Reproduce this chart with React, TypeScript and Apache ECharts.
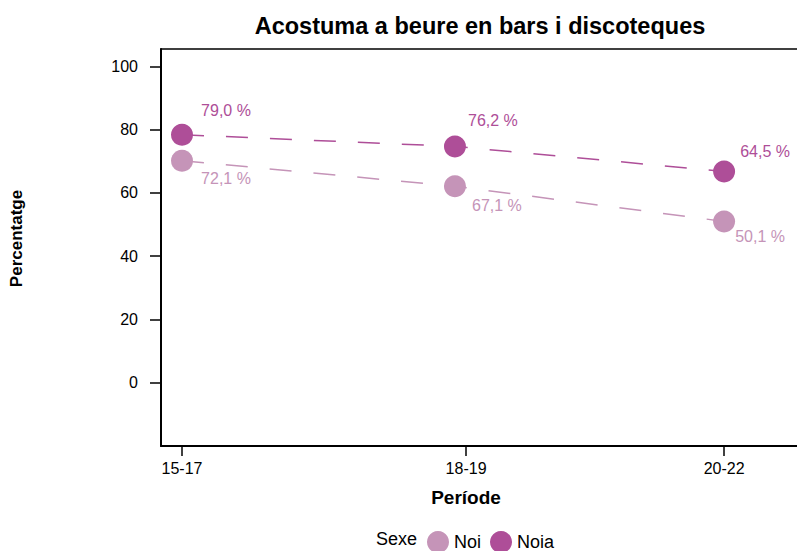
import React, { useEffect, useRef } from "react";
import * as echarts from "echarts";

const categories = ["15-17", "18-19", "20-22"];
const categoryTickPos = [0, 1.048, 2];
const pointPos = [0, 1.007, 2];
const noiaValues = [78.4, 74.7, 66.8];
const noiValues = [70.2, 62.1, 51.0];
const noiaLabels = [79.0, 76.2, 64.5];
const noiLabels = [72.1, 67.1, 50.1];
const yTicks = [0, 20, 40, 60, 80, 100];
const noiaLabelOffsets = [[44, -24], [38, -26], [41, -20]];
const noiLabelOffsets = [[44, 18], [42, 19], [36, 15]];

const NOIA = "#AE4E98";
const NOI = "#C594B8";
const FONT = "'Liberation Sans', Arial, Helvetica, sans-serif";

const fmt = (n: number) => n.toFixed(1).replace(".", ",") + " %";

function buildSeries(name: string, values: number[], labels: number[], offsets: number[][], color: string) {
  return {
    name,
    type: "line",
    symbol: "circle",
    symbolSize: 22,
    itemStyle: { color },
    lineStyle: { color, width: 1.5, type: [22, 22] },
    data: values.map((v, i) => ({
      value: [pointPos[i], v],
      label: {
        show: true,
        position: "inside",
        offset: offsets[i],
        formatter: fmt(labels[i]),
        color,
        fontSize: 16,
        fontFamily: FONT,
      },
    })),
  };
}

export default function App() {
  const ref = useRef<HTMLDivElement>(null);
  useEffect(() => {
    document.body.style.margin = "0";
    if (!ref.current) return;
    const chart = echarts.init(ref.current, undefined, { renderer: "svg" });
    const xMin = -0.0775;
    const xMax = 2.269;
    chart.setOption({
      animation: false,
      backgroundColor: "#ffffff",
      textStyle: { fontFamily: FONT },
      title: {
        text: "Acostuma a beure en bars i discoteques",
        left: 475,
        textAlign: "center",
        top: 9,
        textStyle: { fontSize: 23.5, fontWeight: "bold", color: "#000", fontFamily: FONT },
      },
      grid: {
        left: 161,
        top: 49,
        right: 0,
        bottom: 105,
        show: false,
      },
      xAxis: [
        {
          type: "value",
          min: xMin,
          max: xMax,
          splitLine: { show: false },
          axisLine: { show: true, onZero: false, lineStyle: { color: "#000", width: 2 } },
          axisTick: { show: true, length: 10, customValues: categoryTickPos, lineStyle: { color: "#000", width: 1.5 } },
          axisLabel: {
            customValues: categoryTickPos,
            formatter: (v: number) => categories[Math.round(v)] ?? "",
            color: "#000",
            fontSize: 16,
            margin: 14,
            fontFamily: FONT,
          },
        },
        {
          type: "value",
          position: "top",
          min: xMin,
          max: xMax,
          splitLine: { show: false },
          axisLine: { show: true, onZero: false, lineStyle: { color: "#000", width: 1.5 } },
          axisTick: { show: false },
          axisLabel: { show: false },
        },
      ],
      yAxis: {
        type: "value",
        min: -20,
        max: 105.5,
        splitLine: { show: false },
        axisLine: { show: true, onZero: false, lineStyle: { color: "#000", width: 2 } },
        axisTick: { show: true, length: 11, customValues: yTicks, lineStyle: { color: "#000", width: 1.5 } },
        axisLabel: {
          customValues: yTicks,
          color: "#000",
          fontSize: 16,
          margin: 23,
          fontFamily: FONT,
        },
      },
      legend: {
        left: 422,
        top: 526,
        icon: "circle",
        itemWidth: 22,
        itemHeight: 22,
        itemGap: 9,
        data: ["Noi", "Noia"],
        textStyle: { fontSize: 18, color: "#000", fontFamily: FONT },
      },
      graphic: [
        {
          type: "text",
          left: 376,
          top: 530,
          style: { text: "Sexe", fontSize: 18, fill: "#000", fontFamily: FONT },
        },
        {
          type: "text",
          x: 466,
          y: 497,
          style: {
            text: "Període",
            fontSize: 19,
            fontWeight: "bold",
            fill: "#000",
            fontFamily: FONT,
            align: "center",
            verticalAlign: "middle",
          },
        },
        {
          type: "text",
          x: 16,
          y: 238.5,
          rotation: Math.PI / 2,
          style: {
            text: "Percentatge",
            fontSize: 17,
            fontWeight: "bold",
            fill: "#000",
            fontFamily: FONT,
            align: "center",
            verticalAlign: "middle",
          },
        },
      ],
      series: [
        buildSeries("Noi", noiValues, noiLabels, noiLabelOffsets, NOI),
        buildSeries("Noia", noiaValues, noiaLabels, noiaLabelOffsets, NOIA),
      ],
    });
    return () => chart.dispose();
  }, []);
  return <div ref={ref} style={{ width: 797, height: 551 }} />;
}
